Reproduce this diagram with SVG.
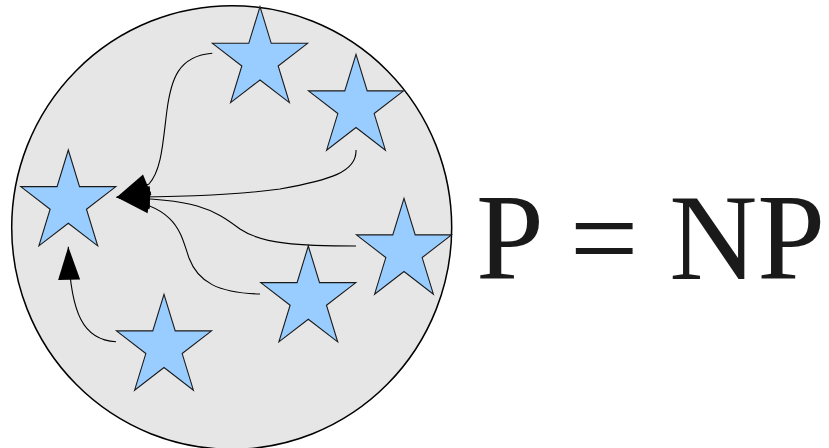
<svg xmlns="http://www.w3.org/2000/svg" xmlns:xlink="http://www.w3.org/1999/xlink" width="829" height="448" viewBox="0 0 829 448">
  <style>
    .star { fill: #99ccff; stroke: #1a1a1a; stroke-width: 1.1; stroke-linejoin: miter; }
    .edge { fill: none; stroke: #000; stroke-width: 1.1; marker-end: url(#arrow); }
    .label { font-family: "Liberation Serif", "Times New Roman", serif; font-size: 122px; fill: #1a1a1a; }
  </style>
  <defs>
    <path id="star" d="M0,-53 L11.23,-16.38 L47.55,-16.38 L18.17,6.26 L29.39,42.88 L0,20.25 L-29.39,42.88 L-18.17,6.26 L-47.55,-16.38 L-11.23,-16.38 Z"/>
    <marker id="arrow" markerUnits="userSpaceOnUse" markerWidth="34" markerHeight="23" refX="33" refY="11" orient="auto" overflow="visible">
      <path d="M0,0 L33,11 L0,22 Z" fill="#000"/>
    </marker>
  </defs>
  <rect width="829" height="448" fill="#fff"/>
  <g id="set">
    <ellipse cx="231.7" cy="227.5" rx="220" ry="221.8" fill="#e6e6e6" stroke="#000" stroke-width="1.5"/>
  </g>
  <g id="star-a"><use xlink:href="#star" href="#star" class="star" transform="translate(68.3,203)"/></g>
  <g id="star-b"><use xlink:href="#star" href="#star" class="star" transform="translate(260,59.7)"/></g>
  <g id="star-c"><use xlink:href="#star" href="#star" class="star" transform="translate(356,107.3)"/></g>
  <g id="star-d"><use xlink:href="#star" href="#star" class="star" transform="translate(404,251.3)"/></g>
  <g id="star-e"><use xlink:href="#star" href="#star" class="star" transform="translate(308.3,299)"/></g>
  <g id="star-f"><use xlink:href="#star" href="#star" class="star" transform="translate(164,347.3)"/></g>
  <g id="connectors">
    <path class="edge" d="M212.3,53.3 C178,56 171,80 167,110 C163,140 162,170 149,184 L116.7,197.3"/>
    <path class="edge" d="M356,150 C357,172 330,180 280,189 C230,196 170,197 116.7,197.3"/>
    <path class="edge" d="M356,246 C300,246 262,244 240,229 C212,208 195,199 116.7,197.5"/>
    <path class="edge" d="M260,294 C218,293 198,282 189,258 C180,232 178,207 116.7,197.3"/>
    <path class="edge" d="M116,341.7 C84,340 70,315 68.3,246.7"/>
  </g>
  <g id="title">
    <text class="label" x="476" y="279.3">P = NP</text>
  </g>
</svg>
